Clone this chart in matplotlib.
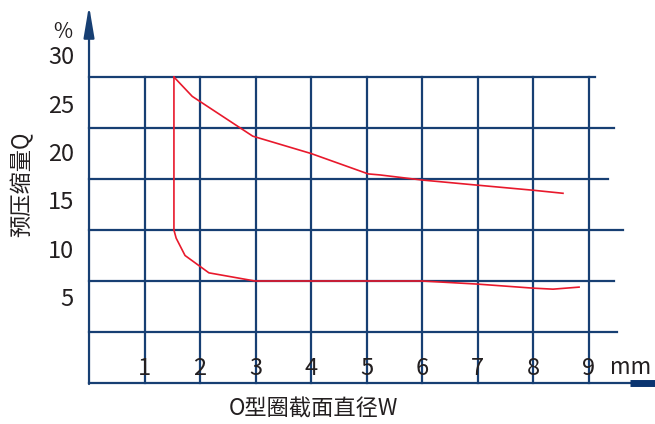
import numpy as np
from matplotlib import pyplot as plt

plt.rcParams['font.family'] = ['Noto Sans CJK SC', 'DejaVu Sans']

# upper branch of the curve (O-ring diameter W in mm, compression in grid units)
upper_w = [1.53, 1.86, 2.95, 4.0, 5.03, 5.24, 6.0, 6.99, 8.0, 8.54]
upper_q = [30.0, 28.1, 24.2, 22.5, 20.5, 20.4, 19.9, 19.4, 18.9, 18.6]

# lower branch
lower_w = [1.53, 1.53, 1.57, 1.73, 2.16, 2.99, 6.0, 6.99, 8.0, 8.36, 8.83]
lower_q = [30.0, 15.0, 14.2, 12.5, 10.8, 10.0, 10.0, 9.7, 9.3, 9.2, 9.4]

x_ticks = [1, 2, 3, 4, 5, 6, 7, 8, 9]
y_labels = ['5', '10', '15', '20', '25', '30']
grid_rows = [5, 10, 15, 20, 25, 30]
row_ends = [9.51, 9.46, 9.62, 9.35, 9.46, 9.12]

navy = '#173f73'
red = '#e8192c'
txt = '#231f20'

fig = plt.figure(figsize=(6.55, 4.24), dpi=100)
ax = fig.add_axes([0, 0, 1, 1])
ax.set_xlim(-1.604, 10.198)
ax.set_ylim(-4.02, 37.55)
ax.axis('off')

# grid
for x in x_ticks:
    ax.plot([x, x], [0, 30], color=navy, lw=1.6, zorder=1)
for y, xe in zip(grid_rows, row_ends):
    ax.plot([0, xe], [y, y], color=navy, lw=1.6, zorder=1)

# axes
ax.plot([0, 9.75], [0, 0], color=navy, lw=1.6, zorder=2)
ax.plot([9.75, 10.2], [0, 0], color='#0a3470', lw=5, solid_capstyle='butt', zorder=2)
ax.annotate('', xy=(0, 37.0), xytext=(0, -0.1),
            arrowprops=dict(arrowstyle='-|>,head_length=1.9,head_width=0.32',
                            mutation_scale=10, color=navy, lw=1.6,
                            shrinkA=0, shrinkB=0), zorder=2)

# curve
ax.plot(upper_w, upper_q, color=red, lw=1.2, zorder=3)
ax.plot(lower_w, lower_q, color=red, lw=1.2, zorder=3)

# tick labels
for x in x_ticks:
    ax.text(x, 1.4, str(x), ha='center', va='center', fontsize=17, color=txt, zorder=4)
ax.text(9.75, 1.5, 'mm', ha='center', va='center', fontsize=16, color=txt)
for lab in y_labels:
    v = float(lab)
    ax.text(-0.27, v * 0.95 + 3.4, lab, ha='right', va='center', fontsize=17, color=txt)
ax.text(-0.47, 34.4, '%', ha='center', va='center', fontsize=15, color=txt)

ax.text(-1.22, 19.5, '预压缩量Q', rotation=90, ha='center', va='center', fontsize=16, color=txt)
ax.text(4.05, -2.6, 'O型圈截面直径W', ha='center', va='center', fontsize=16, color=txt)

plt.savefig('out.png', dpi=100)
